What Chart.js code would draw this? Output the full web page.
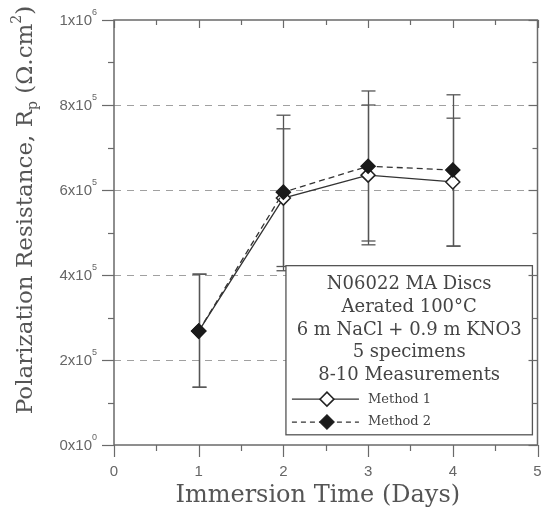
<!DOCTYPE html>
<html>
<head>
<meta charset="utf-8">
<script src="https://cdn.jsdelivr.net/npm/chart.js@4"></script>
<style>
  html, body { margin: 0; padding: 0; background: #fff; }
  #wrap { width: 546px; height: 510px; position: relative; }
</style>
</head>
<body>
<div id="wrap"><canvas id="chart-rp"></canvas></div>
<script>
// ---- data ----
const days = [1, 2, 3, 4];
const method1 = [268000, 581000, 635000, 619000];
const method2 = [268000, 595000, 656000, 647000];
const m1Low = [136000, 420000, 480000, 468000];
const m1High = [402000, 744000, 800000, 769000];
const m2Low = [136000, 410000, 471000, 468000];
const m2High = [402000, 776000, 833000, 824000];

const yTicks = [0, 200000, 400000, 600000, 800000, 1000000];
const yTickBase = ['0x10', '2x10', '4x10', '6x10', '8x10', '1x10'];
const yTickExp = ['0', '5', '5', '5', '5', '6'];
const xTicks = [0, 1, 2, 3, 4, 5];

const legendLines = ['N06022 MA Discs', 'Aerated 100°C', '6 m NaCl + 0.9 m KNO3', '5 specimens', '8-10 Measurements'];
const seriesNames = ['Method 1', 'Method 2'];

const AXIS = '#6a6a6a';
const SERIF = '"DejaVu Serif", "Liberation Serif", serif';
const SANS = '"Liberation Sans", Arial, sans-serif';

const toPts = arr => arr.map((v, i) => ({ x: days[i], y: v }));

// ---- custom drawing: grid, error bars, frame, ticks, labels, legend ----
const figurePlugin = {
  id: 'figure',
  beforeDatasetsDraw(chart) {
    const { ctx, chartArea: a, scales: { x, y } } = chart;
    ctx.save();
    // dashed horizontal grid
    ctx.strokeStyle = '#a0a0a0';
    ctx.lineWidth = 1.2;
    ctx.setLineDash([7, 6]);
    yTicks.slice(1, -1).forEach(v => {
      const py = Math.round(y.getPixelForValue(v)) + 0.5;
      ctx.beginPath(); ctx.moveTo(a.left, py); ctx.lineTo(a.right, py); ctx.stroke();
    });
    ctx.setLineDash([]);
    // error bars
    ctx.strokeStyle = '#555';
    ctx.lineWidth = 1.3;
    [[m1Low, m1High], [m2Low, m2High]].forEach(([lo, hi]) => {
      days.forEach((d, i) => {
        const px = Math.round(x.getPixelForValue(d)) + 0.5;
        const y1 = y.getPixelForValue(lo[i]);
        const y2 = y.getPixelForValue(hi[i]);
        ctx.beginPath(); ctx.moveTo(px, y1); ctx.lineTo(px, y2); ctx.stroke();
        [y1, y2].forEach(py => {
          ctx.beginPath(); ctx.moveTo(px - 7, py); ctx.lineTo(px + 7, py); ctx.stroke();
        });
      });
    });
    ctx.restore();
  },
  afterDatasetsDraw(chart) {
    const { ctx, chartArea: a, scales: { x, y } } = chart;
    ctx.save();

    // legend box
    const bx = x.getPixelForValue(2.03), bx2 = x.getPixelForValue(4.94);
    const by = y.getPixelForValue(422000), by2 = y.getPixelForValue(24000);
    ctx.fillStyle = '#fff';
    ctx.fillRect(bx, by, bx2 - bx, by2 - by);
    ctx.strokeStyle = '#555';
    ctx.lineWidth = 1.3;
    ctx.strokeRect(bx, by, bx2 - bx, by2 - by);
    const cx = (bx + bx2) / 2;
    ctx.fillStyle = '#444';
    ctx.font = '18px ' + SERIF;
    ctx.textAlign = 'center';
    ctx.textBaseline = 'middle';
    legendLines.forEach((t, i) => ctx.fillText(t, cx, by + 19 + i * 22.6));
    // series samples
    seriesNames.forEach((name, i) => {
      const ly = by + 19 + (5 + i) * 22.9;
      const ds = chart.data.datasets[i];
      ctx.strokeStyle = '#333';
      ctx.lineWidth = 1.2;
      ctx.setLineDash(i ? [5, 4] : []);
      ctx.beginPath(); ctx.moveTo(bx + 6, ly); ctx.lineTo(bx + 73, ly); ctx.stroke();
      ctx.setLineDash([]);
      const mx = bx + 41, r = 7;
      ctx.beginPath();
      ctx.moveTo(mx, ly - r); ctx.lineTo(mx + r, ly); ctx.lineTo(mx, ly + r); ctx.lineTo(mx - r, ly); ctx.closePath();
      ctx.fillStyle = ds.pointBackgroundColor; ctx.fill();
      ctx.lineWidth = 1.5; ctx.strokeStyle = '#222'; ctx.stroke();
      ctx.fillStyle = '#444';
      ctx.font = '13px ' + SERIF;
      ctx.textAlign = 'left';
      ctx.fillText(name, bx + 82, ly);
    });

    // frame
    ctx.strokeStyle = AXIS;
    ctx.lineWidth = 1.5;
    ctx.strokeRect(a.left, a.top, a.right - a.left, a.bottom - a.top);

    // y ticks (major every 2e5, minor between)
    ctx.lineWidth = 1.2;
    for (let v = 0; v <= 1000000; v += 100000) {
      const py = Math.round(y.getPixelForValue(v)) + 0.5;
      const major = v % 200000 === 0;
      ctx.beginPath(); ctx.moveTo(a.left - (major ? 12 : 6), py); ctx.lineTo(a.left, py); ctx.stroke();
      ctx.beginPath(); ctx.moveTo(a.right, py); ctx.lineTo(a.right - (major ? 9 : 5), py); ctx.stroke();
    }
    // x ticks (major every 1, minor at halves)
    for (let v = 0; v <= 5; v += 0.5) {
      const px = Math.round(x.getPixelForValue(v)) + 0.5;
      const major = v % 1 === 0;
      ctx.beginPath(); ctx.moveTo(px, a.bottom); ctx.lineTo(px, a.bottom + (major ? 12 : 6)); ctx.stroke();
      ctx.beginPath(); ctx.moveTo(px, a.top); ctx.lineTo(px, a.top + (major ? 8 : 5)); ctx.stroke();
    }

    // tick labels
    ctx.fillStyle = '#666';
    ctx.textBaseline = 'middle';
    yTicks.forEach((v, i) => {
      const py = y.getPixelForValue(v);
      ctx.font = '9px ' + SANS;
      ctx.textAlign = 'right';
      const ew = ctx.measureText(yTickExp[i]).width;
      ctx.fillText(yTickExp[i], 97, py - 7);
      ctx.font = '15px ' + SANS;
      ctx.fillText(yTickBase[i], 97 - ew, py + 1);
    });
    ctx.font = '15px ' + SANS;
    ctx.textAlign = 'center';
    xTicks.forEach(v => ctx.fillText(String(v), x.getPixelForValue(v), a.bottom + 27));

    // axis titles
    ctx.fillStyle = '#555';
    ctx.font = '24px ' + SERIF;
    ctx.fillText('Immersion Time (Days)', (a.left + a.right) / 2 - 8, 496);
    ctx.save();
    ctx.translate(26, 210);
    ctx.rotate(-Math.PI / 2);
    const big = '23px ' + SERIF, small = '14px ' + SERIF;
    const parts = [
      ['Polarization Resistance, R', big, 0],
      ['p', small, 7],
      [' (Ω.cm', big, 0],
      ['2', small, -9],
      [')', big, 0],
    ];
    let total = 0;
    parts.forEach(p => { ctx.font = p[1]; p.push(ctx.measureText(p[0]).width); total += p[3]; });
    let sx = -total / 2;
    ctx.textAlign = 'left';
    parts.forEach(p => { ctx.font = p[1]; ctx.fillText(p[0], sx, p[2]); sx += p[3]; });
    ctx.restore();

    ctx.restore();
  }
};

new Chart(document.getElementById('chart-rp'), {
  type: 'line',
  data: {
    datasets: [
      {
        label: seriesNames[0],
        data: toPts(method1),
        order: 2,
        borderColor: '#333',
        borderWidth: 1.3,
        pointStyle: 'rectRot',
        pointRadius: 7,
        pointBackgroundColor: '#fff',
        pointBorderColor: '#222',
        pointBorderWidth: 1.5,
        tension: 0,
      },
      {
        label: seriesNames[1],
        data: toPts(method2),
        order: 1,
        borderColor: '#333',
        borderWidth: 1.3,
        borderDash: [6, 4],
        pointStyle: 'rectRot',
        pointRadius: 7,
        pointBackgroundColor: '#1a1a1a',
        pointBorderColor: '#1a1a1a',
        pointBorderWidth: 1.5,
        tension: 0,
      },
    ],
  },
  options: {
    responsive: true,
    maintainAspectRatio: false,
    animation: false,
    layout: { padding: { top: 20, right: 8, left: 0, bottom: 0 } },
    plugins: { legend: { display: false }, tooltip: { enabled: false } },
    scales: {
      x: {
        type: 'linear', min: 0, max: 5,
        ticks: { display: false, stepSize: 1 },
        grid: { display: false },
        border: { display: false },
        afterFit: s => { s.height = 65; },
      },
      y: {
        type: 'linear', min: 0, max: 1000000,
        ticks: { display: false, stepSize: 200000 },
        grid: { display: false },
        border: { display: false },
        afterFit: s => { s.width = 114; },
      },
    },
  },
  plugins: [figurePlugin],
});
</script>
</body>
</html>
